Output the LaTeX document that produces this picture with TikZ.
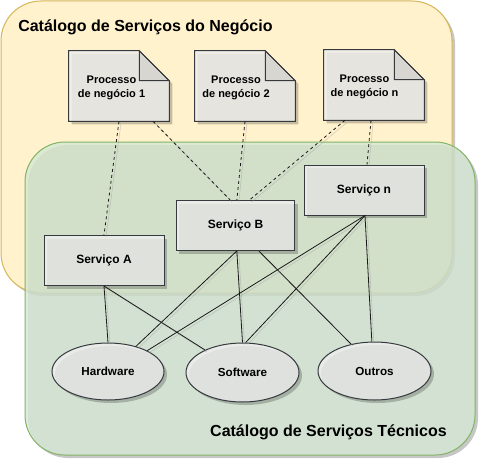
\documentclass[tikz,border=0pt]{standalone}
\usepackage{fontspec}
\setmainfont{Liberation Sans}
\usetikzlibrary{shapes.geometric,shadows,calc}
\definecolor{ylwfill}{HTML}{FFF2CC}
\definecolor{ylwline}{HTML}{D6B656}
\definecolor{grnfill}{HTML}{D5E8D4}
\definecolor{grnline}{HTML}{82B366}
\definecolor{nodefill}{HTML}{EEEEEE}
\definecolor{nodeline}{HTML}{36393D}
\newcommand\notepath[1]{(#1.north west) -- ([xshift=-22.5pt]#1.north east) -- ([yshift=-22.5pt]#1.north east) -- (#1.south east) -- (#1.south west) -- cycle}
\newcommand\foldpath[1]{([xshift=-22.5pt]#1.north east) -- ([xshift=-22.5pt,yshift=-22.5pt]#1.north east) -- ([yshift=-22.5pt]#1.north east) -- cycle}
\begin{document}
\begin{tikzpicture}[x=0.75pt,y=-0.75pt,
  shd/.style={drop shadow={shadow xshift=2.25pt,shadow yshift=-2.25pt,fill=black,opacity=0.22}},
  container/.style={rounded corners=30pt, line width=0.75pt, shd},
  ttl/.style={font=\fontsize{12}{14}\selectfont\bfseries, inner sep=0pt},
  svc/.style={draw=nodeline, fill=nodefill, fill opacity=0.8, text opacity=1, line width=0.75pt,
    minimum width=90pt, minimum height=37.5pt, inner sep=0pt, shd,
    font=\fontsize{9}{11}\selectfont\bfseries},
  res/.style={ellipse, draw=nodeline, fill=nodefill, fill opacity=0.8, text opacity=1, line width=0.75pt,
    inner sep=0pt, shd, font=\fontsize{8.75}{10}\selectfont\bfseries},
  doc/.style={minimum width=75pt, minimum height=52.5pt, inner sep=0pt},
  doctxt/.style={font=\fontsize{8.25}{10.5}\selectfont\bfseries, align=center},
  edg/.style={draw=black!90, line width=0.6pt,
    preaction={draw=black!40, opacity=0.45, transform canvas={shift={(1.5pt,-1.5pt)}}}},
  dsh/.style={edg, dash pattern=on 2.25pt off 2.25pt}
]
\useasboundingbox (0,0) rectangle (488,467);

% business catalogue container
\path[container, draw=ylwline, fill=ylwfill] (1,1) rectangle (452,293);
\node[ttl, anchor=west] (t1) at (18,27) {Catálogo de Serviços do Negócio};

% business process documents
\node[doc] (p1) at (119,86) {};
\node[doc] (p2) at (245,86) {};
\node[doc] (pn) at (374,85) {};
\foreach \d in {p1,p2,pn}{
  \fill[black, opacity=0.22, transform canvas={shift={(2.25pt,-2.25pt)}}] \notepath{\d};
  \filldraw[draw=nodeline, fill=nodefill, fill opacity=0.8, line width=0.75pt] \notepath{\d};
  \filldraw[draw=nodeline, fill=black, fill opacity=0.06, line width=0.75pt] \foldpath{\d};
}
\node[doctxt] (l1) at (111.5,88) {Processo\\de negócio 1};
\node[doctxt] (l2) at (236,88) {Processo\\de negócio 2};
\node[doctxt] (l3) at (364.5,87) {Processo\\de negócio n};

% technical catalogue container
\path[container, draw=grnline, fill=grnfill, fill opacity=0.8] (25,142) rectangle (475,455);
\node[ttl, anchor=east] (t2) at (447,432) {Catálogo de Serviços Técnicos};

% services
\node[svc] (sA) at (104,260.5) {Serviço A};
\node[svc, minimum width=89pt] (sB) at (235.5,225.5) {Serviço B};
\node[svc] (sn) at (364,190) {Serviço n};

% resources
\node[res, minimum width=84pt, minimum height=42.75pt] (hw) at (108,371.5) {Hardware};
\node[res, minimum width=84.75pt, minimum height=44.25pt] (sw) at (242.5,372.5) {Software};
\node[res, minimum width=84.75pt, minimum height=43.5pt] (ot) at (374.5,371) {Outros};

% dashed links
\draw[dsh] (p1.south) -- (sA.north);
\draw[dsh] ([xshift=25.5pt]p1.south) -- ([xshift=-4pt]sB.north);
\draw[dsh] (p2.south) -- ([xshift=1pt]sB.north);
\draw[dsh] ([xshift=-21.75pt]pn.south) -- ([xshift=10.5pt]sB.north);
\draw[dsh] ([xshift=-2.25pt]pn.south) -- ([xshift=2.25pt]sn.north);

% solid links
\draw[edg] (sA.south) -- (hw.north);
\draw[edg] (sA.south) -- (sw.149);
\draw[edg] ([xshift=1pt]sB.south) -- (hw.42);
\draw[edg] ([xshift=1pt]sB.south) -- (sw.north);
\draw[edg] ([xshift=17.5pt]sB.south) -- (ot.131);
\draw[edg] ([xshift=0.75pt]sn.south) -- (hw.28);
\draw[edg] ([xshift=0.75pt]sn.south) -- (sw.84);
\draw[edg] ([xshift=0.75pt]sn.south) -- ([xshift=-2pt]ot.north);
\end{tikzpicture}
\end{document}
